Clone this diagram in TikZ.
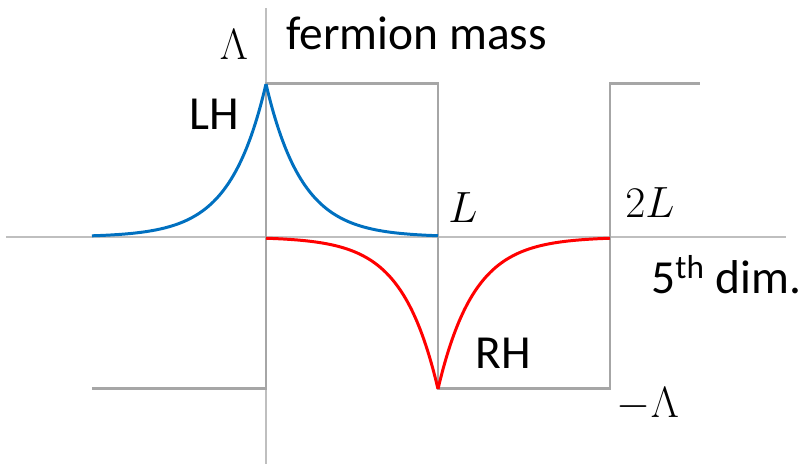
\documentclass[tikz,border=0pt]{standalone}
\usepackage{fontspec}
\setmainfont{Carlito}
\usepackage{tikz}
\usetikzlibrary{positioning}
\definecolor{axisgray}{RGB}{191,191,191}
\definecolor{stepgray}{RGB}{166,166,166}
\definecolor{lhblue}{RGB}{0,112,192}
\definecolor{rhred}{RGB}{255,0,0}

\begin{document}
\begin{tikzpicture}[
  font=\fontsize{27}{31}\selectfont,
  axis/.style={draw=axisgray,line width=1.1pt},
  mass/.style={draw=stepgray,line width=1.7pt},
  lh/.style={draw=lhblue,line width=1.7pt},
  rh/.style={draw=rhred,line width=1.7pt},
  lbl/.style={inner sep=0pt,anchor=base}
]
\useasboundingbox (-5.32,-4.54) rectangle (10.78,4.74);
% axes
\draw[axis] (-5.2,0) -- (10.4,0);
\draw[axis] (0,-4.54) -- (0,4.58);
% mass profile
\draw[mass] (-3.48,-3.04) -- (0,-3.04) -- (0,3.06) -- (3.44,3.06)
  -- (3.44,-3.04) -- (6.88,-3.04) -- (6.88,3.06) -- (8.68,3.06);
% zero modes
\draw[lh,smooth,samples=80,domain=-3.48:0] plot (\x,{3.06*exp(1.395*\x)});
\draw[lh,smooth,samples=80,domain=0:3.44] plot (\x,{3.06*exp(-1.395*\x)});
\draw[rh,smooth,samples=80,domain=0:3.44] plot (\x,{-3.04*exp(-1.395*(3.44-\x))});
\draw[rh,smooth,samples=80,domain=3.44:6.88] plot (\x,{-3.04*exp(-1.395*(\x-3.44))});
% labels
\node[lbl] (lam) at (-0.64,3.54) {$\Lambda$};
\node[lbl,anchor=base west] (title) at (0.4,3.74) {fermion mass};
\node[lbl] (lhl) at (-1.04,2.14) {LH};
\node[lbl] (ell) at (3.94,0.28) {$L$};
\node[lbl] (twoell) at (7.68,0.38) {$2L$};
\node[lbl,anchor=base west] (dim) at (7.7,-1.14) {5\textsuperscript{th} dim.};
\node[lbl] (rhl) at (4.74,-2.64) {RH};
\node[lbl] (mlam) at (7.64,-3.62) {$-\Lambda$};
\end{tikzpicture}
\end{document}
